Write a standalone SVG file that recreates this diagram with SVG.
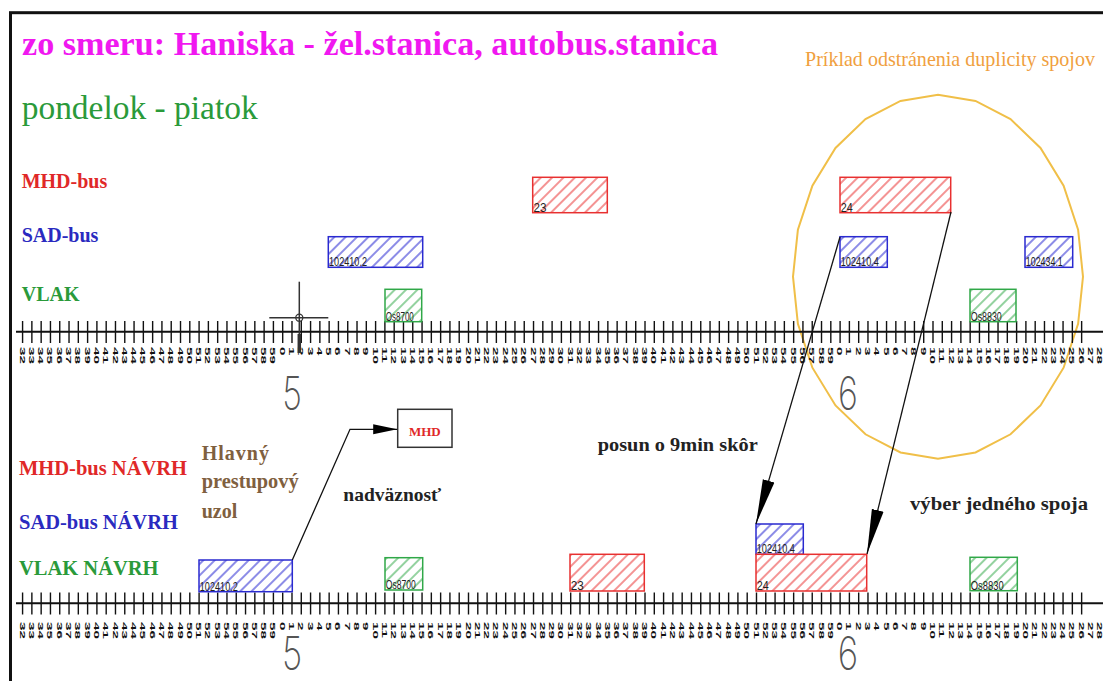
<svg xmlns="http://www.w3.org/2000/svg" xmlns:xlink="http://www.w3.org/1999/xlink" width="1103" height="681" viewBox="0 0 1103 681">
<style>
.ser{font-family:"Liberation Serif","Times New Roman",serif}
.b{font-weight:bold}
.tl text{font-family:"Liberation Sans",Arial,sans-serif;font-size:8px;font-weight:bold;fill:#111}
.bl{font-family:"Liberation Sans",Arial,sans-serif;font-size:13px;fill:#222}
.hr{font-family:Inter,Roboto,"Open Sans",sans-serif;font-weight:200;font-size:46px;fill:#555;text-anchor:middle}
.red{fill:url(#hR);stroke:#e83030;stroke-width:1.5}
.blue{fill:url(#hB);stroke:#2a2ad0;stroke-width:1.5}
.green{fill:url(#hG);stroke:#30a848;stroke-width:1.5}
.con{fill:none;stroke:#111;stroke-width:1.3}
</style>
<defs>
<pattern id="hR" patternUnits="userSpaceOnUse" width="8" height="8" patternTransform="rotate(45)"><rect width="8" height="8" fill="#fff"/><line x1="4" y1="0" x2="4" y2="8" stroke="#ee4c4c" stroke-width="1.2"/></pattern>
<pattern id="hB" patternUnits="userSpaceOnUse" width="8" height="8" patternTransform="rotate(45)"><rect width="8" height="8" fill="#fff"/><line x1="4" y1="0" x2="4" y2="8" stroke="#4040d8" stroke-width="1.2"/></pattern>
<pattern id="hG" patternUnits="userSpaceOnUse" width="8" height="8" patternTransform="rotate(45)"><rect width="8" height="8" fill="#fff"/><line x1="4" y1="0" x2="4" y2="8" stroke="#4cb460" stroke-width="1.2"/></pattern>
<marker id="ahL" markerUnits="userSpaceOnUse" markerWidth="46" markerHeight="14" refX="45" refY="7" orient="auto"><path d="M0,1 L45,7 L0,13 Z" fill="#000"/></marker>
<marker id="ahS" markerUnits="userSpaceOnUse" markerWidth="25" markerHeight="12" refX="24" refY="6" orient="auto"><path d="M0,1 L24,6 L0,11 Z" fill="#000"/></marker>
</defs>
<rect width="1103" height="681" fill="#fff"/>
<rect x="10.5" y="12.7" width="1110" height="700" fill="none" stroke="#111" stroke-width="3"/>

<g id="titles">
<text class="ser b" x="22" y="55" font-size="34" fill="#f018f0" textLength="696" lengthAdjust="spacingAndGlyphs">zo smeru: Haniska - žel.stanica, autobus.stanica</text>
<text class="ser" x="21.7" y="119" font-size="33" fill="#2a9a3a" textLength="236" lengthAdjust="spacingAndGlyphs">pondelok - piatok</text>
<text class="ser" transform="translate(805,66) scale(0.955,1)" font-size="21" fill="#f0a040">Príklad odstránenia duplicity spojov</text>
</g>

<g id="row-labels">
<text class="ser b" x="21.7" y="188.3" font-size="20" fill="#e02828">MHD-bus</text>
<text class="ser b" x="21.7" y="241.7" font-size="20" fill="#2a2ac0">SAD-bus</text>
<text class="ser b" x="21.7" y="300.7" font-size="20" fill="#2a9a3a">VLAK</text>
<text class="ser b" x="19" y="475" font-size="20.5" fill="#e02828">MHD-bus NÁVRH</text>
<text class="ser b" x="19" y="529.3" font-size="20.5" fill="#2a2ac0">SAD-bus NÁVRH</text>
<text class="ser b" x="19" y="575" font-size="20.5" fill="#2a9a3a">VLAK NÁVRH</text>
</g>

<g id="uzol-label" class="ser b" font-size="20" fill="#7f6040">
<text x="201.7" y="460" letter-spacing="1">Hlavný</text>
<text x="201.7" y="488.3" textLength="97" lengthAdjust="spacingAndGlyphs">prestupový</text>
<text x="201.7" y="518.3">uzol</text>
</g>
<g id="note-nadvaznost"><text class="ser b" x="343.3" y="500.7" font-size="19.5" fill="#222">nadväznosť</text></g>
<g id="note-posun"><text class="ser b" x="597.7" y="451" font-size="19" fill="#222" textLength="160" lengthAdjust="spacingAndGlyphs">posun o 9min skôr</text></g>
<g id="note-vyber"><text class="ser b" x="910" y="510" font-size="19.5" fill="#222" textLength="178" lengthAdjust="spacingAndGlyphs">výber jedného spoja</text></g>

<g id="highlight-circle">
<polygon fill="none" stroke="#f0bf48" stroke-width="2" points="1083,276.7 1078.1,323.8 1063.6,367.7 1040.5,405.4 1010.5,434.3 975.5,452.5 938,458.7 900.5,452.5 865.5,434.3 835.5,405.4 812.4,367.7 797.9,323.8 793,276.7 797.9,229.6 812.4,185.7 835.5,148 865.5,119.1 900.5,100.9 938,94.7 975.5,100.9 1010.5,119.1 1040.5,148 1063.6,185.7 1078.1,229.6"/>
</g>

<g id="axis-ticks">
<path d="M16,331.7H1103" stroke="#111" stroke-width="2"/>
<path stroke="#111" stroke-width="1.4" fill="none" d="M22.58,321v22m9.29,-22v22m9.29,-22v22m9.29,-22v22m9.29,-22v22m9.29,-22v22m9.29,-22v22m9.29,-22v22m9.29,-22v22m9.29,-22v22m9.29,-22v22m9.29,-22v22m9.29,-22v22m9.29,-22v22m9.29,-22v22m9.29,-22v22m9.29,-22v22m9.29,-22v22m9.29,-22v22m9.29,-22v22m9.29,-22v22m9.29,-22v22m9.29,-22v22m9.29,-22v22m9.29,-22v22m9.29,-22v22m9.29,-22v22m9.29,-22v22m9.29,-22v22m9.29,-22v22m9.29,-22v22m9.29,-22v22m9.29,-22v22m9.29,-22v22m9.29,-22v22m9.29,-22v22m9.29,-22v22m9.29,-22v22m9.29,-22v22m9.29,-22v22m9.29,-22v22m9.29,-22v22m9.29,-22v22m9.29,-22v22m9.29,-22v22m9.29,-22v22m9.29,-22v22m9.29,-22v22m9.29,-22v22m9.29,-22v22m9.29,-22v22m9.29,-22v22m9.29,-22v22m9.29,-22v22m9.29,-22v22m9.29,-22v22m9.29,-22v22m9.29,-22v22m9.29,-22v22m9.29,-22v22m9.29,-22v22m9.29,-22v22m9.29,-22v22m9.29,-22v22m9.29,-22v22m9.29,-22v22m9.29,-22v22m9.29,-22v22m9.29,-22v22m9.29,-22v22m9.29,-22v22m9.29,-22v22m9.29,-22v22m9.29,-22v22m9.29,-22v22m9.29,-22v22m9.29,-22v22m9.29,-22v22m9.29,-22v22m9.29,-22v22m9.29,-22v22m9.29,-22v22m9.29,-22v22m9.29,-22v22m9.29,-22v22m9.29,-22v22m9.29,-22v22m9.29,-22v22m9.29,-22v22m9.29,-22v22m9.29,-22v22m9.29,-22v22m9.29,-22v22m9.29,-22v22m9.29,-22v22m9.29,-22v22m9.29,-22v22m9.29,-22v22m9.29,-22v22m9.29,-22v22m9.29,-22v22m9.29,-22v22m9.29,-22v22m9.29,-22v22m9.29,-22v22m9.29,-22v22m9.29,-22v22m9.29,-22v22m9.29,-22v22m9.29,-22v22m9.29,-22v22m9.29,-22v22m9.29,-22v22m9.29,-22v22m9.29,-22v22"/>
</g>
<g id="axis-labels" class="tl" transform="translate(-0.7,347) rotate(90) scale(1.9,1)">
<text y="-20.4">32</text><text y="-29.7">33</text><text y="-39">34</text><text y="-48.2">35</text><text y="-57.5">36</text><text y="-66.8">37</text><text y="-76.1">38</text><text y="-85.4">39</text>
<text y="-94.7">40</text><text y="-104">41</text><text y="-113.3">42</text><text y="-122.6">43</text><text y="-131.9">44</text><text y="-141.2">45</text><text y="-150.4">46</text><text y="-159.7">47</text><text y="-169">48</text><text y="-178.3">49</text>
<text y="-187.6">50</text><text y="-196.9">51</text><text y="-206.2">52</text><text y="-215.5">53</text><text y="-224.8">54</text><text y="-234.1">55</text><text y="-243.3">56</text><text y="-252.6">57</text><text y="-261.9">58</text><text y="-271.2">59</text>
<text y="-280.5">0</text><text y="-289.8">1</text><text y="-299.1">2</text><text y="-308.4">3</text><text y="-317.7">4</text><text y="-327">5</text><text y="-336.2">6</text><text y="-345.5">7</text><text y="-354.8">8</text><text y="-364.1">9</text>
<text y="-373.4">10</text><text y="-382.7">11</text><text y="-392">12</text><text y="-401.3">13</text><text y="-410.6">14</text><text y="-419.9">15</text><text y="-429.1">16</text><text y="-438.4">17</text><text y="-447.7">18</text><text y="-457">19</text>
<text y="-466.3">20</text><text y="-475.6">21</text><text y="-484.9">22</text><text y="-494.2">23</text><text y="-503.5">24</text><text y="-512.8">25</text><text y="-522">26</text><text y="-531.3">27</text><text y="-540.6">28</text><text y="-549.9">29</text>
<text y="-559.2">30</text><text y="-568.5">31</text><text y="-577.8">32</text><text y="-587.1">33</text><text y="-596.4">34</text><text y="-605.7">35</text><text y="-614.9">36</text><text y="-624.2">37</text><text y="-633.5">38</text><text y="-642.8">39</text>
<text y="-652.1">40</text><text y="-661.4">41</text><text y="-670.7">42</text><text y="-680">43</text><text y="-689.3">44</text><text y="-698.6">45</text><text y="-707.8">46</text><text y="-717.1">47</text><text y="-726.4">48</text><text y="-735.7">49</text>
<text y="-745">50</text><text y="-754.3">51</text><text y="-763.6">52</text><text y="-772.9">53</text><text y="-782.2">54</text><text y="-791.5">55</text><text y="-800.7">56</text><text y="-810">57</text><text y="-819.3">58</text><text y="-828.6">59</text>
<text y="-837.9">0</text><text y="-847.2">1</text><text y="-856.5">2</text><text y="-865.8">3</text><text y="-875.1">4</text><text y="-884.4">5</text><text y="-893.6">6</text><text y="-902.9">7</text><text y="-912.2">8</text><text y="-921.5">9</text>
<text y="-930.8">10</text><text y="-940.1">11</text><text y="-949.4">12</text><text y="-958.7">13</text><text y="-968">14</text><text y="-977.3">15</text><text y="-986.5">16</text><text y="-995.8">17</text><text y="-1005.1">18</text><text y="-1014.4">19</text>
<text y="-1023.7">20</text><text y="-1033">21</text><text y="-1042.3">22</text><text y="-1051.6">23</text><text y="-1060.9">24</text><text y="-1070.2">25</text><text y="-1079.4">26</text><text y="-1088.7">27</text><text y="-1098">28</text>
</g>
<use id="axis-ticks-bottom" xlink:href="#axis-ticks" href="#axis-ticks" y="271.6"/>
<use id="axis-labels-bottom" xlink:href="#axis-labels" href="#axis-labels" y="275"/>

<g id="hours">
<text class="hr" transform="translate(292,410) scale(0.74,1)">5</text>
<text class="hr" transform="translate(848,410) scale(0.74,1)">6</text>
<text class="hr" transform="translate(292,670) scale(0.76,1)" font-size="44">5</text>
<text class="hr" transform="translate(848,670) scale(0.76,1)" font-size="44">6</text>
</g>

<g id="cursor" stroke="#333" fill="none">
<path d="M299.3,281.7V353" stroke-width="1.5"/>
<path d="M299.3,334V353" stroke-width="3.5"/>
<path d="M269.3,317.7H328.3" stroke-width="1.5"/>
<circle cx="299.3" cy="317.7" r="3.5" stroke-width="1.3"/>
</g>

<g id="mhd-23"><rect class="red" x="532.7" y="177.3" width="74.6" height="35.4"/><text class="bl" x="533.5" y="211.5" textLength="13" lengthAdjust="spacingAndGlyphs">23</text></g>
<g id="mhd-24"><rect class="red" x="840" y="177.3" width="110.7" height="35.4"/><text class="bl" x="840.8" y="211.5" textLength="12" lengthAdjust="spacingAndGlyphs">24</text></g>
<g id="sad-102410-2"><rect class="blue" x="328.3" y="236.7" width="94.4" height="30.6"/><text class="bl" x="329" y="266.3" font-size="12" textLength="38" lengthAdjust="spacingAndGlyphs">102410.2</text></g>
<g id="sad-102410-4"><rect class="blue" x="840" y="236.7" width="47.3" height="30.6"/><text class="bl" x="840.8" y="266.3" font-size="12" textLength="38" lengthAdjust="spacingAndGlyphs">102410.4</text></g>
<g id="sad-102434-1"><rect class="blue" x="1025" y="236.7" width="47.7" height="30.6"/><text class="bl" x="1025.8" y="266.3" font-size="12" textLength="37" lengthAdjust="spacingAndGlyphs">102434.1</text></g>
<g id="vlak-os8700"><rect class="green" x="385" y="289.3" width="36.7" height="32.4"/><text class="bl" x="385.8" y="320.7" font-size="12" textLength="28" lengthAdjust="spacingAndGlyphs">Os8700</text></g>
<g id="vlak-os8830"><rect class="green" x="970" y="289.3" width="46" height="32.4"/><text class="bl" x="970.8" y="320.7" font-size="12" textLength="31" lengthAdjust="spacingAndGlyphs">Os8830</text></g>

<g id="n-sad-102410-2"><rect class="blue" x="199" y="560" width="93.3" height="31.7"/><text class="bl" x="199.8" y="590.7" font-size="12" textLength="38" lengthAdjust="spacingAndGlyphs">102410.2</text></g>
<g id="n-vlak-os8700"><rect class="green" x="385" y="557.7" width="37.7" height="32.3"/><text class="bl" x="385.8" y="589" font-size="12" textLength="30" lengthAdjust="spacingAndGlyphs">Os8700</text></g>
<g id="n-mhd-23"><rect class="red" x="570" y="554.3" width="74.3" height="36.7"/><text class="bl" x="570.8" y="590" textLength="13" lengthAdjust="spacingAndGlyphs">23</text></g>
<g id="n-sad-102410-4"><rect class="blue" x="756" y="524" width="47.3" height="30.3"/><text class="bl" x="756.8" y="553.3" font-size="12" textLength="38" lengthAdjust="spacingAndGlyphs">102410.4</text></g>
<g id="n-mhd-24"><rect class="red" x="756" y="554.3" width="110.7" height="36.7"/><text class="bl" x="756.8" y="590" textLength="12" lengthAdjust="spacingAndGlyphs">24</text></g>
<g id="n-vlak-os8830"><rect class="green" x="970" y="557.3" width="47.3" height="33.4"/><text class="bl" x="970.8" y="589.7" font-size="12" textLength="33" lengthAdjust="spacingAndGlyphs">Os8830</text></g>

<g id="mhd-box"><rect x="397.7" y="409.3" width="54.3" height="38" fill="#fff" stroke="#333" stroke-width="1.5"/><text class="ser b" x="424.8" y="435.5" font-size="13" fill="#e02828" text-anchor="middle">MHD</text></g>

<g id="connectors">
<path class="con" d="M292.3,560 L350,429.3 L397.2,429.3" marker-end="url(#ahS)"/>
<path class="con" d="M840,237 L756,524" marker-end="url(#ahL)"/>
<path class="con" d="M951,212 L867,554" marker-end="url(#ahL)"/>
</g>
</svg>
